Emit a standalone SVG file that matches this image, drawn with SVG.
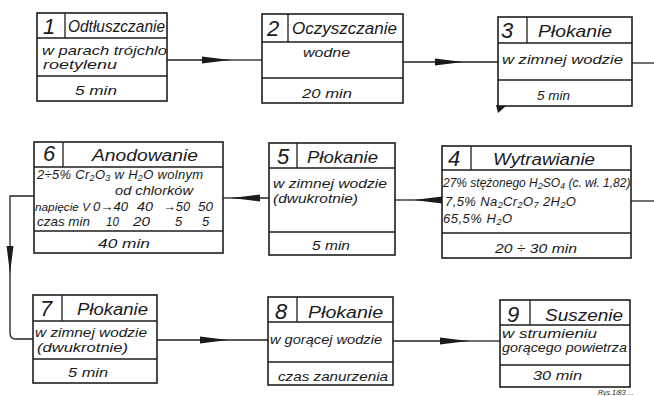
<svg xmlns="http://www.w3.org/2000/svg" width="654" height="396" viewBox="0 0 654 396">
<style>
.bx{fill:#fff;stroke:#1e1e1e;stroke-width:1.6}
.ln{stroke:#1e1e1e;stroke-width:1.3;fill:none}
.cn{stroke:#222;stroke-width:1.3;fill:none}
.t{font-family:"Liberation Sans","DejaVu Sans",sans-serif;font-style:italic;font-weight:normal;fill:#1a1a1a}
.n{font-size:22px}
.h{font-size:16px}
.b{font-size:13px}
.s{font-size:11px}
.sub{font-size:9px}
</style>
<defs>
<marker id="ah" markerUnits="userSpaceOnUse" markerWidth="30" markerHeight="10" refX="28" refY="4" orient="auto">
<path d="M0,0.6 Q-1.2,4 0,7.4 L28,4 Z" fill="#1a1a1a"/>
</marker>
</defs>
<rect width="654" height="396" fill="#fff"/>

<g id="connectors">
<path class="cn" d="M167,60 H230" marker-end="url(#ah)"/>
<path class="cn" d="M230,60 H262"/>
<path class="cn" d="M403,62 H463" marker-end="url(#ah)"/>
<path class="cn" d="M463,62 H498"/>
<path class="cn" d="M632,63 H654"/>
<path class="cn" d="M654,201 H631"/>
<path class="cn" d="M442,200 H414" marker-end="url(#ah)"/>
<path class="cn" d="M414,200 H395"/>
<path class="cn" d="M269,198 H232" marker-end="url(#ah)"/>
<path class="cn" d="M232,198 H223"/>
<path class="cn" d="M34,196 H10 V274" marker-end="url(#ah)"/>
<path class="cn" d="M10,274 V333 Q10,339 16,339 H33"/>
<path class="cn" d="M157,340 H228" marker-end="url(#ah)"/>
<path class="cn" d="M228,340 H268"/>
<path class="cn" d="M393,341 H468" marker-end="url(#ah)"/>
<path class="cn" d="M468,341 H500"/>
<polygon points="496,105 506,106 498,113" fill="#1a1a1a"/>
</g>

<g id="n1">
<rect class="bx" x="37" y="13" width="130" height="88"/>
<path class="ln" d="M37,38 H167 M37,76 H167 M65,13 V38"/>
<text class="t n" x="43" y="34">1</text>
<text class="t h" x="68" y="32" textLength="97" lengthAdjust="spacingAndGlyphs">Odtłuszczanie</text>
<text class="t b" x="42" y="55" textLength="125" lengthAdjust="spacingAndGlyphs">w parach trójchlo</text>
<text class="t b" x="43" y="69" textLength="74" lengthAdjust="spacingAndGlyphs">roetylenu</text>
<text class="t b" x="75" y="95" textLength="42" lengthAdjust="spacingAndGlyphs">5 min</text>
</g>

<g id="n2">
<rect class="bx" x="262" y="14" width="141" height="89"/>
<path class="ln" d="M262,42 H403 M262,78 H403 M288,14 V42"/>
<text class="t n" x="267" y="36">2</text>
<text class="t h" x="292" y="34" textLength="105" lengthAdjust="spacingAndGlyphs">Oczyszczanie</text>
<text class="t b" x="303" y="57" textLength="47" lengthAdjust="spacingAndGlyphs">wodne</text>
<text class="t b" x="302" y="98" textLength="50" lengthAdjust="spacingAndGlyphs">20 min</text>
</g>

<g id="n3">
<rect class="bx" x="498" y="17" width="134" height="89"/>
<path class="ln" d="M498,43 H632 M498,80 H632 M527,17 V43"/>
<text class="t n" x="501" y="38">3</text>
<text class="t h" x="538" y="37" textLength="74" lengthAdjust="spacingAndGlyphs">Płokanie</text>
<text class="t b" x="502" y="64" textLength="121" lengthAdjust="spacingAndGlyphs">w zimnej wodzie</text>
<text class="t b" x="537" y="100" textLength="33" lengthAdjust="spacingAndGlyphs">5 min</text>
</g>

<g id="n4">
<rect class="bx" x="442" y="146" width="189" height="112"/>
<path class="ln" d="M442,170 H631 M442,233 H631 M471,146 V170"/>
<text class="t n" x="448" y="166">4</text>
<text class="t h" x="493" y="165" textLength="102" lengthAdjust="spacingAndGlyphs">Wytrawianie</text>
<text class="t" x="443" y="187" font-size="12">27% stężonego H<tspan class="sub" dy="2">2</tspan><tspan dy="-2">SO</tspan><tspan class="sub" dy="2">4</tspan><tspan dy="-2"> (c. wł. 1,82)</tspan></text>
<text class="t b" x="445" y="206" letter-spacing="0.4">7,5% Na<tspan class="sub" dy="2">2</tspan><tspan dy="-2">Cr</tspan><tspan class="sub" dy="2">2</tspan><tspan dy="-2">O</tspan><tspan class="sub" dy="2">7</tspan><tspan dy="-2"> 2H</tspan><tspan class="sub" dy="2">2</tspan><tspan dy="-2">O</tspan></text>
<text class="t b" x="443" y="223" letter-spacing="0.5">65,5% H<tspan class="sub" dy="2">2</tspan><tspan dy="-2">O</tspan></text>
<text class="t b" x="495" y="253" textLength="82" lengthAdjust="spacingAndGlyphs">20 ÷ 30 min</text>
</g>

<g id="n5">
<rect class="bx" x="269" y="143" width="126" height="112"/>
<path class="ln" d="M269,168 H395 M269,232 H395 M297,143 V168"/>
<text class="t n" x="277" y="164">5</text>
<text class="t h" x="307" y="163" textLength="71" lengthAdjust="spacingAndGlyphs">Płokanie</text>
<text class="t b" x="273" y="188" textLength="114" lengthAdjust="spacingAndGlyphs">w zimnej wodzie</text>
<text class="t b" x="273" y="203" textLength="85" lengthAdjust="spacingAndGlyphs">(dwukrotnie)</text>
<text class="t b" x="312" y="250" textLength="38" lengthAdjust="spacingAndGlyphs">5 min</text>
</g>

<g id="n6">
<rect class="bx" x="34" y="142" width="189" height="111"/>
<path class="ln" d="M34,167 H223 M34,231 H223 M63,142 V167"/>
<text class="t n" x="43" y="161">6</text>
<text class="t h" x="92" y="161" textLength="106" lengthAdjust="spacingAndGlyphs">Anodowanie</text>
<text class="t b" x="37" y="179" letter-spacing="0.3">2÷5% Cr<tspan class="sub" dy="1.5">2</tspan><tspan dy="-1.5">O</tspan><tspan class="sub" dy="1.5">3</tspan><tspan dy="-1.5"> w H</tspan><tspan class="sub" dy="1.5">2</tspan><tspan dy="-1.5">O wolnym</tspan></text>
<text class="t b" x="115" y="195" textLength="78" lengthAdjust="spacingAndGlyphs">od chlorków</text>
<text class="t s" x="35" y="211" textLength="55" lengthAdjust="spacingAndGlyphs">napięcie V</text>
<text class="t b" x="93" y="211" textLength="35" lengthAdjust="spacingAndGlyphs">0→40</text>
<text class="t b" x="137" y="211" textLength="16" lengthAdjust="spacingAndGlyphs">40</text>
<text class="t b" x="163" y="211" textLength="27" lengthAdjust="spacingAndGlyphs">→50</text>
<text class="t b" x="198" y="211" textLength="15" lengthAdjust="spacingAndGlyphs">50</text>
<text class="t b" x="37" y="226" textLength="53" lengthAdjust="spacingAndGlyphs">czas min</text>
<text class="t b" x="106" y="226" textLength="13" lengthAdjust="spacingAndGlyphs">10</text>
<text class="t b" x="133" y="226" textLength="17" lengthAdjust="spacingAndGlyphs">20</text>
<text class="t b" x="175" y="226">5</text>
<text class="t b" x="202" y="226">5</text>
<text class="t b" x="98" y="248" textLength="52" lengthAdjust="spacingAndGlyphs">40 min</text>
</g>

<g id="n7">
<rect class="bx" x="33" y="295" width="124" height="88"/>
<path class="ln" d="M33,321 H157 M33,359 H157 M62,295 V321"/>
<text class="t n" x="40" y="316">7</text>
<text class="t h" x="77" y="315" textLength="71" lengthAdjust="spacingAndGlyphs">Płokanie</text>
<text class="t b" x="35" y="337" textLength="112" lengthAdjust="spacingAndGlyphs">w zimnej wodzie</text>
<text class="t b" x="37" y="352" textLength="91" lengthAdjust="spacingAndGlyphs">(dwukrotnie)</text>
<text class="t b" x="68" y="377" textLength="40" lengthAdjust="spacingAndGlyphs">5 min</text>
</g>

<g id="n8">
<rect class="bx" x="268" y="297" width="125" height="88"/>
<path class="ln" d="M268,322 H393 M268,362 H393 M297,297 V322"/>
<text class="t n" x="275" y="319">8</text>
<text class="t h" x="308" y="318" textLength="75" lengthAdjust="spacingAndGlyphs">Płokanie</text>
<text class="t b" x="270" y="344" textLength="112" lengthAdjust="spacingAndGlyphs">w gorącej wodzie</text>
<text class="t b" x="278" y="381" textLength="110" lengthAdjust="spacingAndGlyphs">czas zanurzenia</text>
</g>

<g id="n9">
<rect class="bx" x="500" y="300" width="130" height="87"/>
<path class="ln" d="M500,325 H630 M500,365 H630 M530,300 V325"/>
<text class="t n" x="507" y="322">9</text>
<text class="t h" x="545" y="321" textLength="78" lengthAdjust="spacingAndGlyphs">Suszenie</text>
<text class="t b" x="502" y="338" textLength="95" lengthAdjust="spacingAndGlyphs">w strumieniu</text>
<text class="t b" x="502" y="352" textLength="125" lengthAdjust="spacingAndGlyphs">gorącego powietrza</text>
<text class="t b" x="533" y="380" textLength="49" lengthAdjust="spacingAndGlyphs">30 min</text>
</g>

<text class="t" x="598" y="395" font-size="7" fill="#666">Rys.1/83 ...</text>
</svg>
